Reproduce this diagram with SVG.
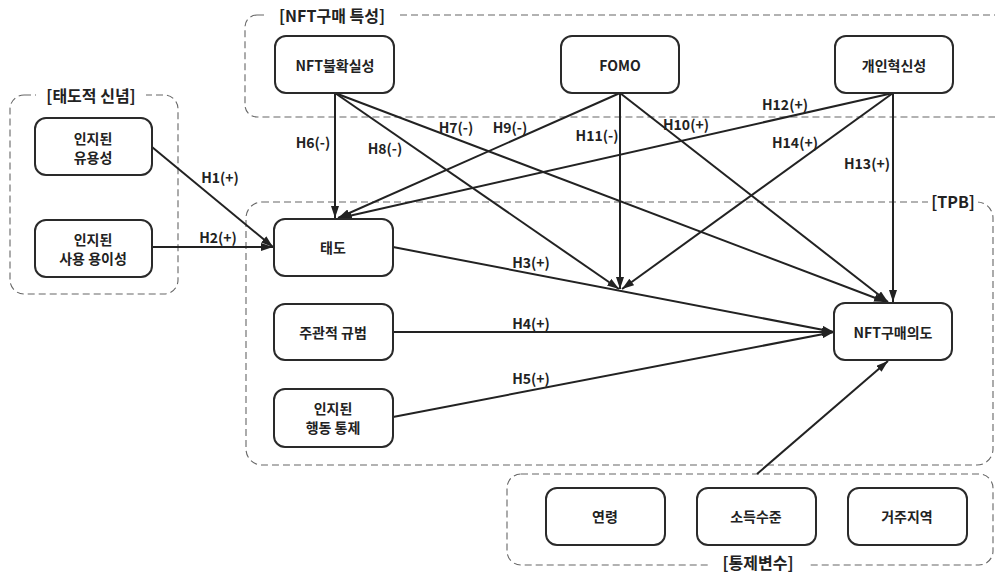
<svg xmlns="http://www.w3.org/2000/svg" width="995" height="574" viewBox="0 0 995 574">
  <style>
    .grp { fill: none; stroke: #666; stroke-width: 1.1; stroke-dasharray: 7 4; }
    .gbg { fill: #fff; }
    .glbl { font-family: "Noto Sans CJK KR", "Noto Sans", sans-serif; font-size: 16px; font-weight: 700; fill: #222; text-anchor: middle; dominant-baseline: central; }
    .box { fill: #fff; stroke: #2a2a2a; stroke-width: 2; }
    .txt { font-family: "Noto Sans CJK KR", "Noto Sans", sans-serif; font-size: 14px; font-weight: 700; fill: #222; text-anchor: middle; dominant-baseline: central; }
    .lbl { font-family: "Noto Sans CJK KR", "Noto Sans", sans-serif; font-size: 14px; font-weight: 700; fill: #222; text-anchor: middle; dominant-baseline: central; }
    .edge { fill: none; stroke: #222; stroke-width: 2; }
  </style>
  <defs>
    <marker id="arr" viewBox="0 0 12 8" refX="12" refY="4" markerWidth="12" markerHeight="8" markerUnits="userSpaceOnUse" orient="auto">
      <path d="M0,0 L12,4 L0,8 z" fill="#222"/>
    </marker>
  </defs>

  <rect width="995" height="574" fill="#fff"/>

  <!-- dashed group frames -->
  <g id="groups">
    <g id="grp-nft">
      <rect class="grp" x="245" y="15" width="770" height="102" rx="12"/>
      <rect class="gbg" x="268" y="5" width="128" height="22"/>
      <text class="glbl" x="332" y="15">[NFT구매 특성]</text>
    </g>
    <g id="grp-attitude">
      <rect class="grp" x="10" y="95" width="168" height="199" rx="14"/>
      <rect class="gbg" x="36" y="85" width="110" height="22"/>
      <text class="glbl" x="91" y="95">[태도적 신념]</text>
    </g>
    <g id="grp-tpb">
      <rect class="grp" x="246" y="202" width="747" height="263" rx="16"/>
      <rect class="gbg" x="928" y="192" width="50" height="22"/>
      <text class="glbl" x="953" y="201">[TPB]</text>
    </g>
    <g id="grp-control">
      <rect class="grp" x="507" y="474" width="486" height="91" rx="14"/>
      <rect class="gbg" x="708" y="554" width="100" height="20"/>
      <text class="glbl" x="758" y="562">[통제변수]</text>
    </g>
  </g>

  <!-- connectors -->
  <g id="connectors">
    <line class="edge" x1="152" y1="147" x2="273" y2="247" marker-end="url(#arr)"/>
    <line class="edge" x1="152" y1="247" x2="273" y2="247" marker-end="url(#arr)"/>
    <line class="edge" x1="335" y1="93" x2="335" y2="218" marker-end="url(#arr)"/>
    <line class="edge" x1="335" y1="93" x2="619" y2="289" marker-end="url(#arr)"/>
    <line class="edge" x1="335" y1="93" x2="886" y2="302" marker-end="url(#arr)"/>
    <line class="edge" x1="620" y1="93" x2="338" y2="218" marker-end="url(#arr)"/>
    <line class="edge" x1="620" y1="93" x2="620" y2="289" marker-end="url(#arr)"/>
    <line class="edge" x1="620" y1="93" x2="888" y2="302" marker-end="url(#arr)"/>
    <line class="edge" x1="893" y1="93" x2="340" y2="218" marker-end="url(#arr)"/>
    <line class="edge" x1="893" y1="93" x2="622" y2="289" marker-end="url(#arr)"/>
    <line class="edge" x1="893" y1="93" x2="893" y2="302" marker-end="url(#arr)"/>
    <line class="edge" x1="393" y1="247" x2="834" y2="332" marker-end="url(#arr)"/>
    <line class="edge" x1="393" y1="332" x2="834" y2="332" marker-end="url(#arr)"/>
    <line class="edge" x1="393" y1="417" x2="834" y2="332" marker-end="url(#arr)"/>
    <line class="edge" x1="757" y1="474" x2="888" y2="361" marker-end="url(#arr)"/>
  </g>

  <!-- path labels -->
  <g id="labels">
    <text class="lbl" x="220" y="177">H1(+)</text>
    <text class="lbl" x="218" y="237">H2(+)</text>
    <text class="lbl" x="313" y="142">H6(-)</text>
    <text class="lbl" x="385" y="148">H8(-)</text>
    <text class="lbl" x="456" y="127">H7(-)</text>
    <text class="lbl" x="510" y="127">H9(-)</text>
    <text class="lbl" x="597" y="135">H11(-)</text>
    <text class="lbl" x="686" y="124">H10(+)</text>
    <text class="lbl" x="785" y="104">H12(+)</text>
    <text class="lbl" x="795" y="142">H14(+)</text>
    <text class="lbl" x="867" y="163">H13(+)</text>
    <text class="lbl" x="531" y="262">H3(+)</text>
    <text class="lbl" x="531" y="323">H4(+)</text>
    <text class="lbl" x="531" y="378">H5(+)</text>
  </g>

  <!-- nodes -->
  <g id="n-uncertainty">
    <rect class="box" x="275" y="36" width="119" height="57" rx="11"/>
    <text class="txt" x="335" y="65">NFT불확실성</text>
  </g>
  <g id="n-fomo">
    <rect class="box" x="561" y="36" width="118" height="57" rx="11"/>
    <text class="txt" x="620" y="65">FOMO</text>
  </g>
  <g id="n-innovativeness">
    <rect class="box" x="835" y="36" width="118" height="57" rx="11"/>
    <text class="txt" x="894" y="65">개인혁신성</text>
  </g>
  <g id="n-usefulness">
    <rect class="box" x="35" y="118" width="117" height="57" rx="11"/>
    <text class="txt" x="93" y="138">인지된</text>
    <text class="txt" x="93" y="157">유용성</text>
  </g>
  <g id="n-ease">
    <rect class="box" x="35" y="220" width="117" height="57" rx="11"/>
    <text class="txt" x="93" y="239">인지된</text>
    <text class="txt" x="93" y="258">사용 용이성</text>
  </g>
  <g id="n-attitude">
    <rect class="box" x="274" y="219" width="119" height="57" rx="11"/>
    <text class="txt" x="333" y="247">태도</text>
  </g>
  <g id="n-norm">
    <rect class="box" x="274" y="304" width="119" height="56" rx="11"/>
    <text class="txt" x="333" y="332">주관적 규범</text>
  </g>
  <g id="n-control">
    <rect class="box" x="274" y="389" width="119" height="58" rx="11"/>
    <text class="txt" x="333" y="408">인지된</text>
    <text class="txt" x="333" y="427">행동 통제</text>
  </g>
  <g id="n-intention">
    <rect class="box" x="834" y="303" width="118" height="57" rx="11"/>
    <text class="txt" x="893" y="332">NFT구매의도</text>
  </g>
  <g id="n-age">
    <rect class="box" x="546" y="488" width="119" height="57" rx="11"/>
    <text class="txt" x="605" y="516">연령</text>
  </g>
  <g id="n-income">
    <rect class="box" x="697" y="488" width="119" height="57" rx="11"/>
    <text class="txt" x="756" y="516">소득수준</text>
  </g>
  <g id="n-region">
    <rect class="box" x="848" y="488" width="119" height="57" rx="11"/>
    <text class="txt" x="907" y="516">거주지역</text>
  </g>
</svg>
